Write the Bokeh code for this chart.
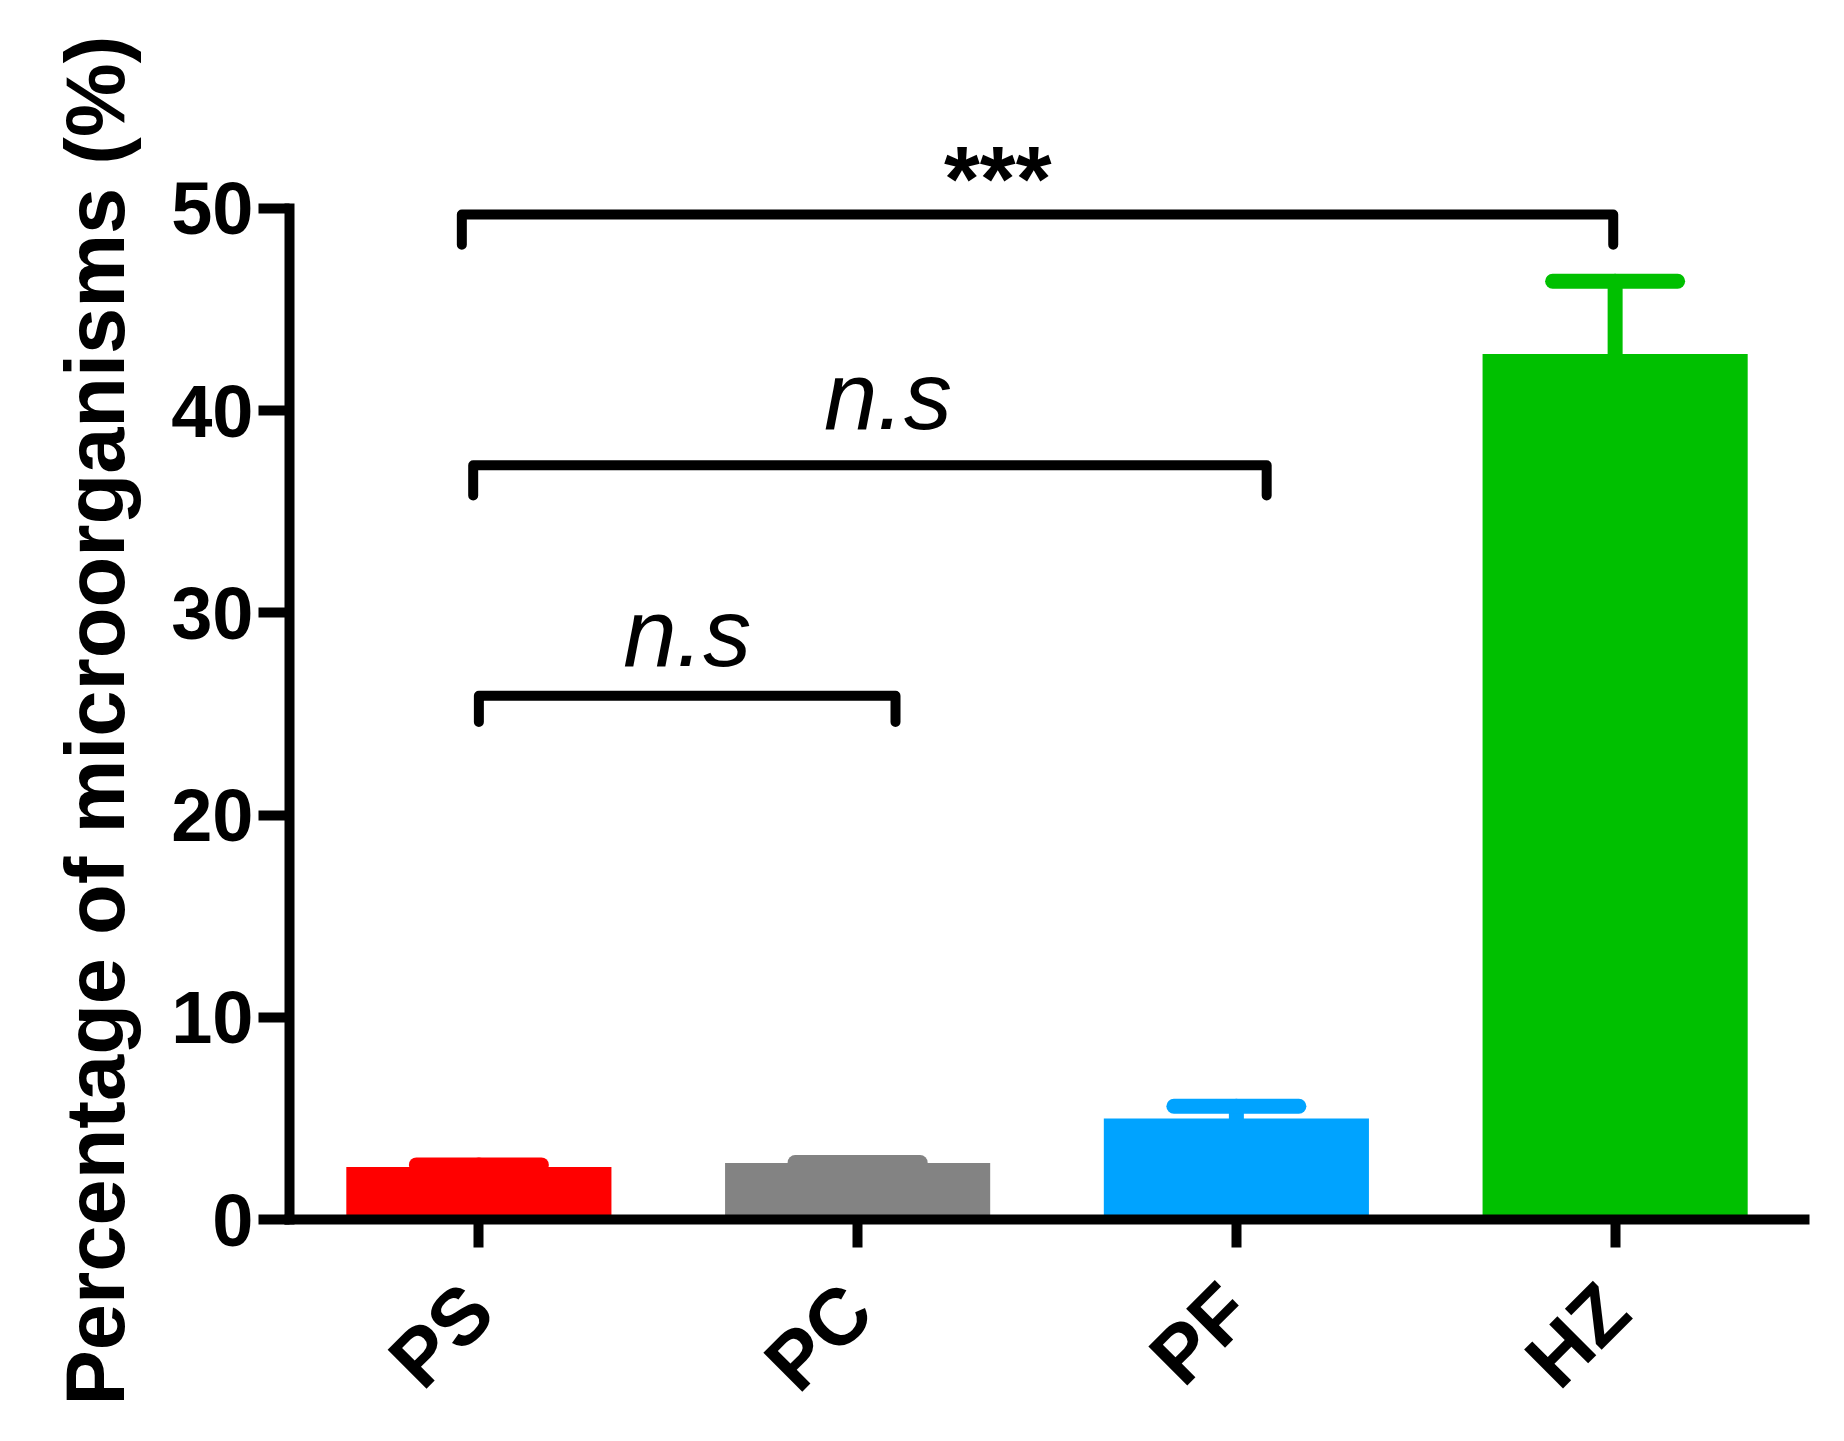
from bokeh.plotting import figure
from bokeh.models import FactorRange, Range1d, FixedTicker, Title, ColumnDataSource
from bokeh.core.properties import value
from bokeh.embed import file_html
from bokeh.resources import INLINE
import math

# data
groups = ["PS", "PC", "PF", "HZ"]
means = [2.6, 2.8, 5.0, 42.8]
sems = [0.1, 0.02, 0.6, 3.6]
colors = ["#FF0000", "#838383", "#00A3FF", "#00C000"]

# significance brackets: (left, right, level, leg bottom), label, label x, label y
brackets = [
    (0.455, 3.495, 49.7, 48.2),
    (0.485, 2.58, 37.3, 35.8),
    (0.50, 1.60, 25.9, 24.6),
]
sig_labels = ["***", "n.s", "n.s"]
sig_x = [1.87, 1.58, 1.05]
sig_y = [51.45, 40.75, 29.05]
sig_size = ["92px", "96px", "96px"]
sig_style = ["bold", "italic", "italic"]

FONT = "Liberation Sans"

p = figure(x_range=FactorRange(factors=groups), y_range=Range1d(0, 54),
           frame_width=1515, frame_height=1092,
           min_border_left=289, min_border_right=24,
           min_border_top=127, min_border_bottom=206,
           output_backend="svg", toolbar_location=None,
           background_fill_color="white", border_fill_color="white")
p.outline_line_color = None
p.grid.visible = False

# error bars, drawn under the bars
xs = [i + 0.5 for i in range(len(groups))]
tops = [m + s for m, s in zip(means, sems)]
p.segment(x0=xs, y0=means, x1=xs, y1=tops, line_color=colors,
          line_width=15, line_cap="round")
p.segment(x0=[x - 0.165 for x in xs], y0=tops, x1=[x + 0.165 for x in xs], y1=tops,
          line_color=colors, line_width=15, line_cap="round")

p.vbar(x=groups, top=means, width=0.7, color=colors, line_color=None)

# brackets
for (x0, x1, y, yb) in brackets:
    p.line(x=[x0, x0, x1, x1], y=[yb, y, y, yb], line_color="black",
           line_width=10, line_join="round", line_cap="round")

# significance labels
sig_src = ColumnDataSource(dict(x=sig_x, y=sig_y, text=sig_labels,
                                size=sig_size, style=sig_style))
p.text(x="x", y="y", text="text", text_align="center",
       text_baseline="alphabetic", text_font=value(FONT),
       text_font_size="size", text_font_style="style", text_color="black",
       source=sig_src)

# axes
xa = p.xaxis[0]
xa.axis_line_width = 10
xa.axis_line_cap = "square"
xa.major_tick_line_width = 10
xa.major_tick_out = 28
xa.major_tick_in = 0
xa.major_label_orientation = math.pi / 4
xa.major_label_text_font = FONT
xa.major_label_text_font_size = "80px"
xa.major_label_text_font_style = "bold"
xa.major_label_text_color = "black"
xa.major_label_standoff = 50

ya = p.yaxis[0]
ya.bounds = (0, 50)
ya.ticker = FixedTicker(ticks=[0, 10, 20, 30, 40, 50])
ya.minor_tick_line_color = None
ya.axis_line_width = 10
ya.axis_line_cap = "square"
ya.major_tick_line_width = 10
ya.major_tick_out = 31
ya.major_tick_in = 0
ya.major_label_text_font = FONT
ya.major_label_text_font_size = "74px"
ya.major_label_text_font_style = "bold"
ya.major_label_text_color = "black"
ya.major_label_standoff = 5

# y label as a side title so it can sit lower than the frame centre
p.add_layout(Title(text="Percentage of microorganisms (%)", align="left", offset=-186,
                   standoff=54, text_font=FONT, text_font_size="83px",
                   text_font_style="bold", text_color="black"), "left")

open("out.html", "w").write(file_html(p, INLINE))
